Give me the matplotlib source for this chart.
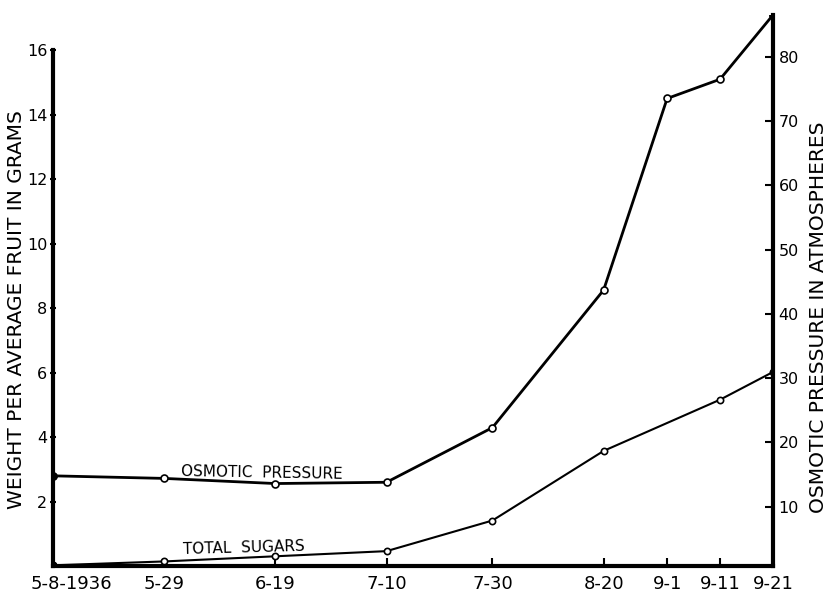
import numpy as np
import pandas as pd
import matplotlib
matplotlib.use('Agg')
import matplotlib.pyplot as plt

# 数据
date_labels = ['5-8-1936', '5-29', '6-19', '7-10', '7-30', '8-20', '9-1', '9-11', '9-21']
dates = ['1936-05-08', '1936-05-29', '1936-06-19', '1936-07-10', '1936-07-30',
         '1936-08-20', '1936-09-01', '1936-09-11', '1936-09-21']

# osmotic pressure, atmospheres (right axis)
osm_dates = dates
osm_values = [14.8, 14.4, 13.6, 13.8, 22.3, 43.7, 73.5, 76.5, 86.5]

# total sugars, grams per fruit (left axis) - no sample on 9-1
sug_dates = ['1936-05-08', '1936-05-29', '1936-06-19', '1936-07-10', '1936-07-30',
             '1936-08-20', '1936-09-11', '1936-09-21']
sug_values = [0.02, 0.14, 0.30, 0.46, 1.41, 3.57, 5.16, 6.02]

start = pd.Timestamp(dates[0])
def to_days(lst):
    return np.array([(pd.Timestamp(d) - start).days for d in lst])

x_ticks = to_days(dates)
x_osm = to_days(osm_dates)
x_sug = to_days(sug_dates)

plt.rcParams['font.family'] = ['DejaVu Sans']

fig = plt.figure(figsize=(8.28, 5.97), dpi=100)
ax = fig.add_axes([0.064, 0.052, 0.8696, 0.923])
ax2 = ax.twinx()

# total sugars on the left scale
ax.plot(x_sug, sug_values, color='black', lw=1.5, marker='o', ms=4.5,
        mfc='white', mec='black', mew=1.2, zorder=3)
ax.plot(x_sug[0], sug_values[0], 'o', color='black', ms=4.5, zorder=4)

# osmotic pressure on the right scale
ax2.plot(x_osm, osm_values, color='black', lw=2.0, marker='o', ms=5,
         mfc='white', mec='black', mew=1.2, zorder=3)
ax2.plot(x_osm[0], osm_values[0], 'o', color='black', ms=5, zorder=4)
ax2.plot(x_osm[-1], osm_values[-1], 'o', color='black', ms=5, zorder=4)

ax.set_xlim(x_ticks[0], x_ticks[-1])
ax.set_ylim(0, 17.1)
ax2.set_ylim(0.78, 86.5)

ax.set_xticks(x_ticks)
ax.set_xticklabels([''] + date_labels[1:], fontsize=13)
# first date label sits a bit right of the corner
ax.annotate(date_labels[0], xy=(x_ticks[0], 0), xycoords=('data', 'axes fraction'),
            xytext=(13, -6.5), textcoords='offset points', ha='center', va='top',
            fontsize=13)

ax.set_yticks([2, 4, 6, 8, 10, 12, 14, 16])
ax.set_yticklabels(['2', '4', '6', '8', '10', '12', '14', '16'], fontsize=11.5)
ax2.set_yticks([10, 20, 30, 40, 50, 60, 70, 80])
ax2.set_yticklabels(['10', '20', '30', '40', '50', '60', '70', '80'], fontsize=11.5)

ax.tick_params(axis='x', direction='in', length=6, width=1.5, pad=6.5)
ax.tick_params(axis='y', direction='inout', length=5, width=1.5, pad=1.5)
ax2.tick_params(axis='y', direction='in', length=6, width=1.5, pad=4)

for a in (ax, ax2):
    a.spines['top'].set_visible(False)
ax2.spines['left'].set_visible(False)
ax2.spines['bottom'].set_visible(False)
ax.spines['right'].set_visible(False)
ax.spines['left'].set_linewidth(3)
ax.spines['left'].set_bounds(0, 16)
ax.spines['bottom'].set_linewidth(3)
ax2.spines['right'].set_linewidth(3)

ax.text(39.4, 2.9, 'OSMOTIC  PRESSURE', fontsize=11, ha='center', va='center', rotation=-1)
ax.text(36.1, 0.56, 'TOTAL  SUGARS', fontsize=11, ha='center', va='center', rotation=1.5)

fig.text(0.0205, 0.481, 'WEIGHT PER AVERAGE FRUIT IN GRAMS', rotation=90,
         fontsize=14.5, ha='center', va='center')
fig.text(0.988, 0.469, 'OSMOTIC PRESSURE IN ATMOSPHERES', rotation=90,
         fontsize=14.5, ha='center', va='center')

fig.savefig('out.png', dpi=100)
